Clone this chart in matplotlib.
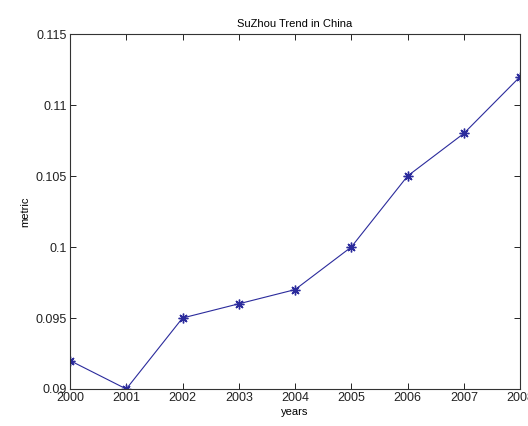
import matplotlib.pyplot as plt

years = [2000, 2001, 2002, 2003, 2004, 2005, 2006, 2007, 2008]
metric = [0.092, 0.090, 0.095, 0.096, 0.097, 0.100, 0.105, 0.108, 0.112]
yticks = [0.09, 0.095, 0.1, 0.105, 0.11, 0.115]
ylabels = ['0.09', '0.095', '0.1', '0.105', '0.11', '0.115']

plt.rcParams['font.family'] = ['Liberation Sans', 'DejaVu Sans']

fig = plt.figure(figsize=(5.28, 4.26), dpi=100)
ax = fig.add_axes([0.1326, 0.0869, 0.8524, 0.8331])
# matlab-style asterisk marker
ax.plot(years, metric, color='#2b2b9c', linewidth=0.8, marker=(8, 2, 0),
        markersize=7, markeredgewidth=1.0)
ax.set_xlim(2000, 2008)
ax.set_ylim(0.09, 0.115)
ax.set_xticks(years)
ax.set_yticks(yticks)
ax.set_yticklabels(ylabels)
ax.tick_params(direction='in', top=True, right=True, labelsize=9, length=4,
               width=0.6, pad=2, labelcolor='#222222')
for s in ax.spines.values():
    s.set_linewidth(0.8)
    s.set_color('#333333')
ax.set_xlabel('years', fontsize=8, labelpad=2)
ax.set_ylabel('metric', fontsize=8, labelpad=4)
ax.set_title('SuZhou Trend in China', fontsize=8, pad=5)
fig.savefig('out.png', dpi=100)
